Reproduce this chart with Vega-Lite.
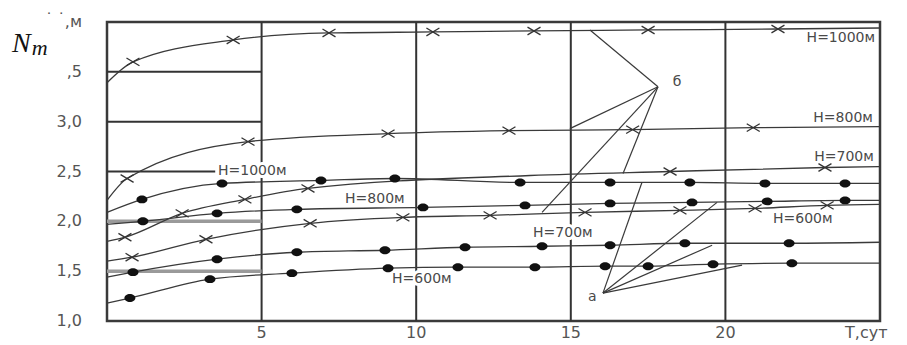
{
  "$schema": "https://vega.github.io/schema/vega-lite/v6.json",
  "width": 773,
  "height": 299,
  "autosize": {"type": "none"},
  "padding": {"left": 107, "top": 22, "right": 27, "bottom": 24},
  "background": "white",
  "config": {
    "view": {"stroke": "#3a3a3a", "strokeWidth": 2.5},
    "font": "DejaVu Sans"
  },
  "datasets": {
    "hgrid": [
      {"n": 1.5, "t0": 0, "t1": 5},
      {"n": 2.0, "t0": 0, "t1": 5},
      {"n": 2.5, "t0": 0, "t1": 3.5},
      {"n": 3.0, "t0": 0, "t1": 5},
      {"n": 3.5, "t0": 0, "t1": 5}
    ],
    "curves": [
      {"c": "x1000", "f": "x", "t": 0, "n": 3.39, "p": 0},
      {"c": "x1000", "f": "x", "t": 0.84, "n": 3.6, "p": 1},
      {"c": "x1000", "f": "x", "t": 4.08, "n": 3.82, "p": 1},
      {"c": "x1000", "f": "x", "t": 7.18, "n": 3.89, "p": 1},
      {"c": "x1000", "f": "x", "t": 10.54, "n": 3.9, "p": 1},
      {"c": "x1000", "f": "x", "t": 13.81, "n": 3.91, "p": 1},
      {"c": "x1000", "f": "x", "t": 17.5, "n": 3.92, "p": 1},
      {"c": "x1000", "f": "x", "t": 21.7, "n": 3.93, "p": 1},
      {"c": "x1000", "f": "x", "t": 25, "n": 3.94, "p": 0},

      {"c": "x800", "f": "x", "t": 0, "n": 2.21, "p": 0},
      {"c": "x800", "f": "x", "t": 0.65, "n": 2.43, "p": 1},
      {"c": "x800", "f": "x", "t": 4.56, "n": 2.8, "p": 1},
      {"c": "x800", "f": "x", "t": 9.09, "n": 2.88, "p": 1},
      {"c": "x800", "f": "x", "t": 13.0, "n": 2.91, "p": 1},
      {"c": "x800", "f": "x", "t": 17.0, "n": 2.92, "p": 1},
      {"c": "x800", "f": "x", "t": 20.9, "n": 2.94, "p": 1},
      {"c": "x800", "f": "x", "t": 25, "n": 2.95, "p": 0},

      {"c": "x700", "f": "x", "t": 0, "n": 1.8, "p": 0},
      {"c": "x700", "f": "x", "t": 0.58, "n": 1.84, "p": 1},
      {"c": "x700", "f": "x", "t": 2.43, "n": 2.08, "p": 1},
      {"c": "x700", "f": "x", "t": 4.46, "n": 2.22, "p": 1},
      {"c": "x700", "f": "x", "t": 6.5, "n": 2.33, "p": 1},
      {"c": "x700", "f": "x", "t": 13.68, "n": 2.46, "p": 0},
      {"c": "x700", "f": "x", "t": 18.21, "n": 2.5, "p": 1},
      {"c": "x700", "f": "x", "t": 23.22, "n": 2.54, "p": 1},
      {"c": "x700", "f": "x", "t": 25, "n": 2.55, "p": 0},

      {"c": "x600", "f": "x", "t": 0, "n": 1.6, "p": 0},
      {"c": "x600", "f": "x", "t": 0.81, "n": 1.64, "p": 1},
      {"c": "x600", "f": "x", "t": 3.2, "n": 1.82, "p": 1},
      {"c": "x600", "f": "x", "t": 6.57, "n": 1.98, "p": 1},
      {"c": "x600", "f": "x", "t": 9.57, "n": 2.04, "p": 1},
      {"c": "x600", "f": "x", "t": 12.39, "n": 2.06, "p": 1},
      {"c": "x600", "f": "x", "t": 15.46, "n": 2.09, "p": 1},
      {"c": "x600", "f": "x", "t": 18.53, "n": 2.11, "p": 1},
      {"c": "x600", "f": "x", "t": 20.96, "n": 2.13, "p": 1},
      {"c": "x600", "f": "x", "t": 23.29, "n": 2.16, "p": 1},
      {"c": "x600", "f": "x", "t": 25, "n": 2.17, "p": 0},

      {"c": "o1000", "f": "o", "t": 0, "n": 2.09, "p": 0},
      {"c": "o1000", "f": "o", "t": 1.13, "n": 2.22, "p": 1},
      {"c": "o1000", "f": "o", "t": 3.72, "n": 2.38, "p": 1},
      {"c": "o1000", "f": "o", "t": 6.92, "n": 2.41, "p": 1},
      {"c": "o1000", "f": "o", "t": 9.31, "n": 2.43, "p": 1},
      {"c": "o1000", "f": "o", "t": 13.36, "n": 2.39, "p": 1},
      {"c": "o1000", "f": "o", "t": 16.27, "n": 2.39, "p": 1},
      {"c": "o1000", "f": "o", "t": 18.85, "n": 2.39, "p": 1},
      {"c": "o1000", "f": "o", "t": 21.28, "n": 2.38, "p": 1},
      {"c": "o1000", "f": "o", "t": 23.87, "n": 2.38, "p": 1},
      {"c": "o1000", "f": "o", "t": 25, "n": 2.38, "p": 0},

      {"c": "o800", "f": "o", "t": 0, "n": 1.97, "p": 0},
      {"c": "o800", "f": "o", "t": 1.16, "n": 2.0, "p": 1},
      {"c": "o800", "f": "o", "t": 3.56, "n": 2.08, "p": 1},
      {"c": "o800", "f": "o", "t": 6.14, "n": 2.12, "p": 1},
      {"c": "o800", "f": "o", "t": 10.22, "n": 2.14, "p": 1},
      {"c": "o800", "f": "o", "t": 13.52, "n": 2.16, "p": 1},
      {"c": "o800", "f": "o", "t": 16.27, "n": 2.18, "p": 1},
      {"c": "o800", "f": "o", "t": 18.92, "n": 2.19, "p": 1},
      {"c": "o800", "f": "o", "t": 21.35, "n": 2.2, "p": 1},
      {"c": "o800", "f": "o", "t": 23.87, "n": 2.21, "p": 1},
      {"c": "o800", "f": "o", "t": 25, "n": 2.21, "p": 0},

      {"c": "o700", "f": "o", "t": 0, "n": 1.44, "p": 0},
      {"c": "o700", "f": "o", "t": 0.84, "n": 1.49, "p": 1},
      {"c": "o700", "f": "o", "t": 3.56, "n": 1.62, "p": 1},
      {"c": "o700", "f": "o", "t": 6.14, "n": 1.69, "p": 1},
      {"c": "o700", "f": "o", "t": 8.99, "n": 1.71, "p": 1},
      {"c": "o700", "f": "o", "t": 11.58, "n": 1.74, "p": 1},
      {"c": "o700", "f": "o", "t": 14.07, "n": 1.75, "p": 1},
      {"c": "o700", "f": "o", "t": 16.27, "n": 1.76, "p": 1},
      {"c": "o700", "f": "o", "t": 18.69, "n": 1.78, "p": 1},
      {"c": "o700", "f": "o", "t": 22.06, "n": 1.78, "p": 1},
      {"c": "o700", "f": "o", "t": 25, "n": 1.79, "p": 0},

      {"c": "o600", "f": "o", "t": 0, "n": 1.18, "p": 0},
      {"c": "o600", "f": "o", "t": 0.74, "n": 1.23, "p": 1},
      {"c": "o600", "f": "o", "t": 3.33, "n": 1.42, "p": 1},
      {"c": "o600", "f": "o", "t": 5.98, "n": 1.48, "p": 1},
      {"c": "o600", "f": "o", "t": 9.09, "n": 1.53, "p": 1},
      {"c": "o600", "f": "o", "t": 11.35, "n": 1.54, "p": 1},
      {"c": "o600", "f": "o", "t": 13.84, "n": 1.54, "p": 1},
      {"c": "o600", "f": "o", "t": 16.11, "n": 1.55, "p": 1},
      {"c": "o600", "f": "o", "t": 17.5, "n": 1.55, "p": 1},
      {"c": "o600", "f": "o", "t": 19.6, "n": 1.57, "p": 1},
      {"c": "o600", "f": "o", "t": 22.15, "n": 1.58, "p": 1},
      {"c": "o600", "f": "o", "t": 25, "n": 1.58, "p": 0}
    ],
    "rays": [
      {"s": "b1", "t": 17.82, "n": 3.35}, {"s": "b1", "t": 15.62, "n": 3.92},
      {"s": "b2", "t": 17.82, "n": 3.35}, {"s": "b2", "t": 14.97, "n": 2.93},
      {"s": "b3", "t": 17.82, "n": 3.35}, {"s": "b3", "t": 14.07, "n": 2.09},
      {"s": "b4", "t": 17.82, "n": 3.35}, {"s": "b4", "t": 16.69, "n": 2.48},
      {"s": "a1", "t": 16.04, "n": 1.28}, {"s": "a1", "t": 17.3, "n": 2.39},
      {"s": "a2", "t": 16.04, "n": 1.28}, {"s": "a2", "t": 19.73, "n": 2.19},
      {"s": "a3", "t": 16.04, "n": 1.28}, {"s": "a3", "t": 19.57, "n": 1.76},
      {"s": "a4", "t": 16.04, "n": 1.28}, {"s": "a4", "t": 20.54, "n": 1.56}
    ],
    "tagsLeft": [
      {"txt": "Н=1000м", "t": 3.59, "n": 2.505},
      {"txt": "Н=800м", "t": 7.7, "n": 2.22},
      {"txt": "Н=700м", "t": 13.78, "n": 1.88},
      {"txt": "Н=600м", "t": 9.22, "n": 1.42},
      {"txt": "Н=600м", "t": 21.54, "n": 2.02}
    ],
    "tagsRight": [
      {"txt": "Н=1000м", "t": 24.84, "n": 3.84},
      {"txt": "Н=800м", "t": 24.77, "n": 3.04},
      {"txt": "Н=700м", "t": 24.8, "n": 2.65}
    ],
    "points": [
      {"txt": "б", "t": 18.3, "n": 3.4},
      {"txt": "а", "t": 15.56, "n": 1.24}
    ],
    "ticksY": [
      {"n": 1.0, "lab": "1,0"},
      {"n": 1.5, "lab": "1,5"},
      {"n": 2.0, "lab": "2,0"},
      {"n": 2.5, "lab": "2,5"},
      {"n": 3.0, "lab": "3,0"},
      {"n": 3.5, "lab": ",5"},
      {"n": 4.0, "lab": ",м"}
    ],
    "ticksX": [
      {"t": 5}, {"t": 10}, {"t": 15}, {"t": 20}
    ],
    "captions": [
      {"txt": "Т,сут", "t": 23.87, "n": 0.88}
    ]
  },
  "layer": [
    {
      "data": {"name": "ticksX"},
      "mark": {"type": "rule", "stroke": "#333", "strokeWidth": 2},
      "encoding": {
        "x": {"field": "t", "type": "quantitative", "scale": {"domain": [0, 25], "nice": false, "zero": false}, "axis": null}
      }
    },
    {
      "data": {"name": "hgrid"},
      "mark": {"type": "rule"},
      "encoding": {
        "x": {"field": "t0", "type": "quantitative", "axis": null},
        "x2": {"field": "t1"},
        "y": {"field": "n", "type": "quantitative", "scale": {"domain": [1, 4], "nice": false, "zero": false}, "axis": null},
        "color": {"condition": {"test": "datum.n < 2.25", "value": "#9a9a9a"}, "value": "#333"},
        "strokeWidth": {"condition": {"test": "datum.n < 2.25", "value": 3.5}, "value": 2}
      }
    },
    {
      "data": {"name": "tagsLeft"},
      "mark": {"type": "text", "align": "left", "baseline": "middle", "fontSize": 14, "fill": "white", "stroke": "white", "strokeWidth": 6},
      "encoding": {
        "x": {"field": "t", "type": "quantitative", "axis": null},
        "y": {"field": "n", "type": "quantitative", "axis": null},
        "text": {"field": "txt"}
      }
    },
    {
      "data": {"name": "curves"},
      "mark": {"type": "line", "interpolate": "monotone", "stroke": "#3a3a3a", "strokeWidth": 1.3},
      "encoding": {
        "x": {"field": "t", "type": "quantitative", "axis": null},
        "y": {"field": "n", "type": "quantitative", "axis": null},
        "detail": {"field": "c"}
      }
    },
    {
      "data": {"name": "rays"},
      "mark": {"type": "line", "stroke": "#3a3a3a", "strokeWidth": 1.2},
      "encoding": {
        "x": {"field": "t", "type": "quantitative", "axis": null},
        "y": {"field": "n", "type": "quantitative", "axis": null},
        "detail": {"field": "s"}
      }
    },
    {
      "data": {"name": "curves"},
      "transform": [{"filter": "datum.p == 1 && datum.f == 'x'"}],
      "mark": {"type": "point", "shape": "M-1,-0.6L1,0.6M-1,0.6L1,-0.6", "filled": false, "stroke": "#333", "strokeWidth": 1.3, "size": 169, "opacity": 1},
      "encoding": {
        "x": {"field": "t", "type": "quantitative", "axis": null},
        "y": {"field": "n", "type": "quantitative", "axis": null}
      }
    },
    {
      "data": {"name": "curves"},
      "transform": [{"filter": "datum.p == 1 && datum.f == 'o'"}],
      "mark": {"type": "point", "shape": "M-1,0A1,0.72,0,1,0,1,0A1,0.72,0,1,0,-1,0Z", "filled": true, "fill": "#111", "size": 121, "opacity": 1},
      "encoding": {
        "x": {"field": "t", "type": "quantitative", "axis": null},
        "y": {"field": "n", "type": "quantitative", "axis": null}
      }
    },
    {
      "data": {"name": "tagsLeft"},
      "mark": {"type": "text", "align": "left", "baseline": "middle", "fontSize": 14, "fill": "#4a4a4a"},
      "encoding": {
        "x": {"field": "t", "type": "quantitative", "axis": null},
        "y": {"field": "n", "type": "quantitative", "axis": null},
        "text": {"field": "txt"}
      }
    },
    {
      "data": {"name": "tagsRight"},
      "mark": {"type": "text", "align": "right", "baseline": "middle", "fontSize": 14, "fill": "#4a4a4a"},
      "encoding": {
        "x": {"field": "t", "type": "quantitative", "axis": null},
        "y": {"field": "n", "type": "quantitative", "axis": null},
        "text": {"field": "txt"}
      }
    },
    {
      "data": {"name": "points"},
      "mark": {"type": "text", "align": "left", "baseline": "middle", "fontSize": 14, "fill": "#4a4a4a"},
      "encoding": {
        "x": {"field": "t", "type": "quantitative", "axis": null},
        "y": {"field": "n", "type": "quantitative", "axis": null},
        "text": {"field": "txt"}
      }
    },
    {
      "data": {"name": "ticksY"},
      "mark": {"type": "text", "align": "right", "baseline": "middle", "fontSize": 16, "fill": "#555", "dx": -25},
      "encoding": {
        "x": {"datum": 0, "type": "quantitative", "axis": null},
        "y": {"field": "n", "type": "quantitative", "axis": null},
        "text": {"field": "lab"}
      }
    },
    {
      "data": {"name": "ticksX"},
      "mark": {"type": "text", "align": "center", "baseline": "top", "fontSize": 16, "fill": "#555", "dy": 4},
      "encoding": {
        "x": {"field": "t", "type": "quantitative", "axis": null},
        "y": {"datum": 1, "type": "quantitative", "axis": null},
        "text": {"field": "t", "type": "quantitative"}
      }
    },
    {
      "data": {"name": "captions"},
      "mark": {"type": "text", "align": "left", "baseline": "middle", "fontSize": 16, "fill": "#555"},
      "encoding": {
        "x": {"field": "t", "type": "quantitative", "axis": null},
        "y": {"field": "n", "type": "quantitative", "axis": null},
        "text": {"field": "txt"}
      }
    },
    {
      "data": {"values": [{"txt": "N", "t": -3.07, "n": 3.7}]},
      "mark": {"type": "text", "align": "left", "baseline": "alphabetic", "font": "Liberation Serif", "fontStyle": "italic", "fontSize": 28, "fill": "#111"},
      "encoding": {
        "x": {"field": "t", "type": "quantitative", "axis": null},
        "y": {"field": "n", "type": "quantitative", "axis": null},
        "text": {"field": "txt"}
      }
    },
    {
      "data": {"values": [{"txt": "m", "t": -2.43, "n": 3.67}]},
      "mark": {"type": "text", "align": "left", "baseline": "alphabetic", "font": "Liberation Serif", "fontStyle": "italic", "fontSize": 22, "fill": "#111"},
      "encoding": {
        "x": {"field": "t", "type": "quantitative", "axis": null},
        "y": {"field": "n", "type": "quantitative", "axis": null},
        "text": {"field": "txt"}
      }
    },
    {
      "data": {"values": [{"txt": "˙ ˙", "t": -2.0, "n": 4.02}]},
      "mark": {"type": "text", "align": "left", "baseline": "middle", "fontSize": 15, "fill": "#555"},
      "encoding": {
        "x": {"field": "t", "type": "quantitative", "axis": null},
        "y": {"field": "n", "type": "quantitative", "axis": null},
        "text": {"field": "txt"}
      }
    }
  ]
}
